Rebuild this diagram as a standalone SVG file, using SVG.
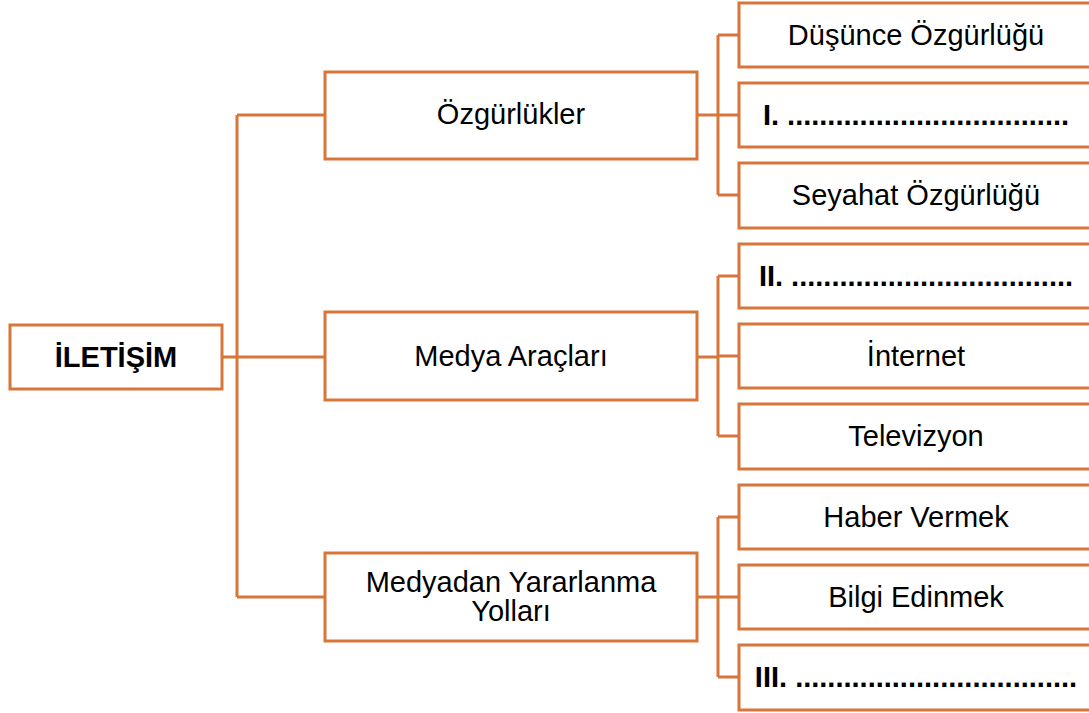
<svg xmlns="http://www.w3.org/2000/svg" width="1089" height="713" viewBox="0 0 1089 713">
<style>
.box{fill:#fff;stroke:#D8763A;stroke-width:3}
.ln{fill:none;stroke:#D8763A;stroke-width:3}
.t{font-family:"Liberation Sans",Arial,sans-serif;font-size:29px;fill:#000;text-anchor:middle}
.b{font-weight:bold}
</style>
<rect width="1089" height="713" fill="#fff"/>
<g id="connectors">
<path class="ln" d="M222 357H237M237 115V597M237 115H325M237 357H325M237 597H325"/>
<path class="ln" d="M697 115H718M718 35V195M718 35H739M718 115H739M718 195H739"/>
<path class="ln" d="M697 357H718M718 276V436M718 276H739M718 356H739M718 436H739"/>
<path class="ln" d="M697 597H718M718 517V677M718 517H739M718 597H739M718 677H739"/>
</g>
<g id="root"><rect class="box" x="10" y="325" width="212" height="64"/><text class="t b" x="116" y="367">İLETİŞİM</text></g>
<g id="ozgurlukler"><rect class="box" x="325" y="72" width="372" height="87"/><text class="t" x="511" y="124">Özgürlükler</text></g>
<g id="medya"><rect class="box" x="325" y="312" width="372" height="88"/><text class="t" x="511" y="366">Medya Araçları</text></g>
<g id="medyadan"><rect class="box" x="325" y="553" width="372" height="88"/><text class="t" x="511" y="592">Medyadan Yararlanma</text><text class="t" x="511" y="621">Yolları</text></g>
<g id="dusunce"><rect class="box" x="739" y="3" width="355" height="64"/><text class="t" x="916" y="45">Düşünce Özgürlüğü</text></g>
<g id="blank1"><rect class="box" x="739" y="83" width="355" height="64"/><text class="t b" x="916" y="125">I. ...................................</text></g>
<g id="seyahat"><rect class="box" x="739" y="163" width="355" height="65"/><text class="t" x="916" y="205">Seyahat Özgürlüğü</text></g>
<g id="blank2"><rect class="box" x="739" y="244" width="355" height="64"/><text class="t b" x="916" y="286">II. ...................................</text></g>
<g id="internet"><rect class="box" x="739" y="324" width="355" height="64"/><text class="t" x="916" y="366">İnternet</text></g>
<g id="televizyon"><rect class="box" x="739" y="404" width="355" height="65"/><text class="t" x="916" y="446">Televizyon</text></g>
<g id="haber"><rect class="box" x="739" y="485" width="355" height="64"/><text class="t" x="916" y="527">Haber Vermek</text></g>
<g id="bilgi"><rect class="box" x="739" y="565" width="355" height="64"/><text class="t" x="916" y="607">Bilgi Edinmek</text></g>
<g id="blank3"><rect class="box" x="739" y="645" width="355" height="65"/><text class="t b" x="916" y="687">III. ...................................</text></g>
</svg>
